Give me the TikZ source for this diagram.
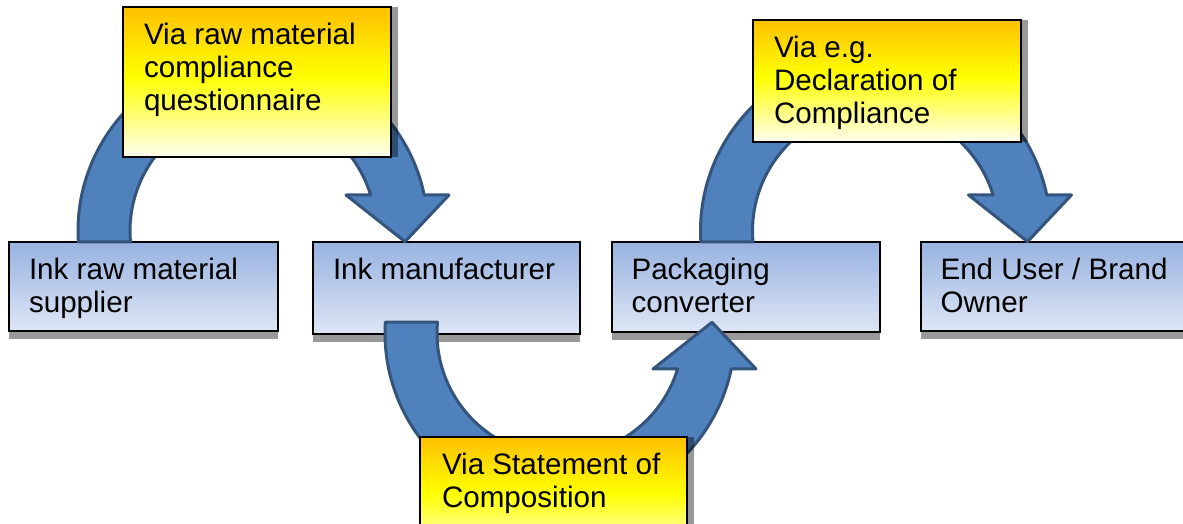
\documentclass[tikz,border=0pt]{standalone}
\usepackage{fontspec}
\setmainfont{Liberation Sans}
\usetikzlibrary{shadows}
\definecolor{yeltop}{RGB}{255,192,0}
\definecolor{yelmid}{RGB}{255,255,0}
\definecolor{yelbot}{RGB}{255,255,240}
\definecolor{bluetop}{RGB}{152,178,224}
\definecolor{bluebot}{RGB}{222,230,245}
\definecolor{arrowfill}{RGB}{79,129,189}
\definecolor{arrowline}{RGB}{52,84,125}
\pgfdeclareverticalshading{goldsh}{100bp}{color(0bp)=(yelbot); color(25bp)=(yelbot); color(52bp)=(yelmid); color(75bp)=(yeltop); color(100bp)=(yeltop)}
\pgfdeclareverticalshading{bluesh}{100bp}{color(0bp)=(bluebot); color(25bp)=(bluebot); color(75bp)=(bluetop); color(100bp)=(bluetop)}
\begin{document}
\begin{tikzpicture}[x=1pt,y=1pt,
  bluebox/.style={rectangle, draw=black, line width=2pt, shading=bluesh, anchor=north west, inner sep=0pt, outer sep=0pt,
    drop shadow={shadow xshift=0pt, shadow yshift=-8pt, opacity=.4, fill=black}},
  yelbox/.style={rectangle, draw=black, line width=2pt, shading=goldsh, anchor=north west, inner sep=0pt, outer sep=0pt,
    drop shadow={shadow xshift=7pt, shadow yshift=0pt, opacity=.4, fill=black}},
  lbl/.style={anchor=base west, inner sep=0pt, outer sep=0pt, font=\fontsize{29.6}{33}\selectfont},
  curved/.style={fill=arrowfill, draw=arrowline, line width=3pt, line join=round},
  pics/bigarrow/.style={code={
    \draw[curved] (253,293) ++(183.6:175) arc[start angle=183.6, end angle=11.87, radius=175]
      -- (449,329) -- (405,282.3) -- (346,329) -- (370.6,329)
      arc[start angle=17.02, end angle=185.1, radius=123] -- cycle;
  }}
]
\useasboundingbox (0,0) rectangle (1183,524);

% blue boxes
\node[bluebox, minimum width=269, minimum height=89] (b1) at (9,282) {};
\node[bluebox, minimum width=267, minimum height=92] (b2) at (313,282.3) {};
\node[bluebox, minimum width=268, minimum height=90] (b3) at (611.5,282.3) {};
\node[bluebox, minimum width=268, minimum height=89] (b4) at (920.5,282) {};

\node[lbl] (t1) at ([shift={(20,-38)}]b1.north west) {\parbox[t]{250pt}{Ink raw material\\supplier}};
\node[lbl] (t2) at ([shift={(20,-38)}]b2.north west) {\parbox[t]{250pt}{Ink manufacturer}};
\node[lbl] (t3) at ([shift={(20,-38)}]b3.north west) {\parbox[t]{250pt}{Packaging\\converter}};
\node[lbl] (t4) at ([shift={(20,-38)}]b4.north west) {\parbox[t]{250pt}{End User / Brand\\Owner}};

% curved arrows
\pic at (0,0) {bigarrow};
\pic[yscale=-1] at (307,484) {bigarrow};
\pic at (622.5,0) {bigarrow};

% yellow boxes
\node[yelbox, minimum width=268, minimum height=150] (y1) at (123,517) {};
\node[yelbox, minimum width=268, minimum height=122] (y2) at (753,504) {};
\node[yelbox, minimum width=267, minimum height=122] (y3) at (420,87) {};

\node[lbl] (u1) at ([shift={(21,-38)}]y1.north west) {\parbox[t]{250pt}{Via raw material\\compliance\\questionnaire}};
\node[lbl] (u2) at ([shift={(21,-38)}]y2.north west) {\parbox[t]{250pt}{Via e.g.\\Declaration of\\Compliance}};
\node[lbl] (u3) at ([shift={(22,-38)}]y3.north west) {\parbox[t]{250pt}{Via Statement of\\Composition}};
\end{tikzpicture}
\end{document}
